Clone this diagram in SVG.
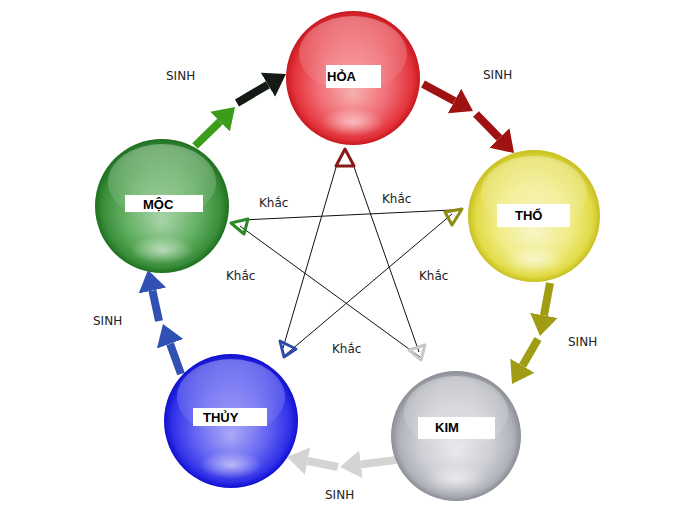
<svg xmlns="http://www.w3.org/2000/svg" width="700" height="522" viewBox="0 0 700 522">
<style>
.lbl{font-family:"Liberation Sans",Arial,sans-serif;font-weight:bold;font-size:13px;fill:#000}
.box{fill:#fff}
.t{font-family:"DejaVu Sans",Verdana,sans-serif;font-size:12px;fill:#222}
.k{stroke:#111;stroke-width:1;fill:none}
.hl{fill:url(#gHi)}
.gl{fill:url(#gGlow)}
</style>
<defs>
<radialGradient id="gRed" cx="0.5" cy="0.5" r="0.5" fx="0.5" fy="0.62">
<stop offset="0" stop-color="#f8b0b0"/><stop offset="0.55" stop-color="#f06a72"/><stop offset="0.88" stop-color="#e4343c"/><stop offset="1" stop-color="#c81820"/>
</radialGradient>
<radialGradient id="gYel" cx="0.5" cy="0.5" r="0.5" fx="0.5" fy="0.62">
<stop offset="0" stop-color="#f8f6c8"/><stop offset="0.55" stop-color="#f0ec88"/><stop offset="0.88" stop-color="#e2dc48"/><stop offset="1" stop-color="#c8c020"/>
</radialGradient>
<radialGradient id="gGry" cx="0.5" cy="0.5" r="0.5" fx="0.5" fy="0.62">
<stop offset="0" stop-color="#e8e9ee"/><stop offset="0.55" stop-color="#cfd0d6"/><stop offset="0.88" stop-color="#b0b2ba"/><stop offset="1" stop-color="#8c8e96"/>
</radialGradient>
<radialGradient id="gBlu" cx="0.5" cy="0.5" r="0.5" fx="0.5" fy="0.62">
<stop offset="0" stop-color="#a8a8f8"/><stop offset="0.55" stop-color="#6464f2"/><stop offset="0.88" stop-color="#3030e8"/><stop offset="1" stop-color="#1010d0"/>
</radialGradient>
<radialGradient id="gGrn" cx="0.5" cy="0.5" r="0.5" fx="0.5" fy="0.62">
<stop offset="0" stop-color="#a8d4a8"/><stop offset="0.55" stop-color="#64b064"/><stop offset="0.88" stop-color="#3a8e3a"/><stop offset="1" stop-color="#1e7020"/>
</radialGradient>
<linearGradient id="gHi" x1="0" y1="0" x2="0" y2="1">
<stop offset="0" stop-color="#fff" stop-opacity="0.35"/><stop offset="1" stop-color="#fff" stop-opacity="0.02"/>
</linearGradient>
<radialGradient id="gGlow" cx="0.5" cy="0.5" r="0.5">
<stop offset="0" stop-color="#fff" stop-opacity="0.55"/><stop offset="1" stop-color="#fff" stop-opacity="0"/>
</radialGradient>
<marker id="mGrn" markerUnits="userSpaceOnUse" markerWidth="24" markerHeight="30" viewBox="0 -15 24 30" refX="0" refY="0" orient="auto"><path d="M0,-14 L21,0 L0,14 z" fill="#3c9c1c"/></marker>
<marker id="mBlk" markerUnits="userSpaceOnUse" markerWidth="24" markerHeight="30" viewBox="0 -15 24 30" refX="0" refY="0" orient="auto"><path d="M0,-14 L21,0 L0,14 z" fill="#141a14"/></marker>
<marker id="mRed" markerUnits="userSpaceOnUse" markerWidth="24" markerHeight="30" viewBox="0 -15 24 30" refX="0" refY="0" orient="auto"><path d="M0,-14 L21,0 L0,14 z" fill="#a01212"/></marker>
<marker id="mOlv" markerUnits="userSpaceOnUse" markerWidth="24" markerHeight="30" viewBox="0 -15 24 30" refX="0" refY="0" orient="auto"><path d="M0,-14 L21,0 L0,14 z" fill="#a09c14"/></marker>
<marker id="mGry" markerUnits="userSpaceOnUse" markerWidth="24" markerHeight="30" viewBox="0 -15 24 30" refX="0" refY="0" orient="auto"><path d="M0,-14 L21,0 L0,14 z" fill="#d4d4d4"/></marker>
<marker id="mBlu" markerUnits="userSpaceOnUse" markerWidth="24" markerHeight="30" viewBox="0 -15 24 30" refX="0" refY="0" orient="auto"><path d="M0,-14 L21,0 L0,14 z" fill="#3050b4"/></marker>
</defs>
<rect width="700" height="522" fill="#fff"/>

<g id="connectors">
<line x1="195" y1="146" x2="220" y2="121.7" stroke="#3c9c1c" stroke-width="8" marker-end="url(#mGrn)"/>
<line x1="237" y1="103" x2="267.9" y2="84.7" stroke="#141a14" stroke-width="8" marker-end="url(#mBlk)"/>
<line x1="423" y1="84" x2="454.5" y2="101" stroke="#a01212" stroke-width="8" marker-end="url(#mRed)"/>
<line x1="476" y1="114" x2="499.4" y2="138" stroke="#a01212" stroke-width="8" marker-end="url(#mRed)"/>
<line x1="550" y1="283" x2="543.9" y2="315.4" stroke="#a09c14" stroke-width="8" marker-end="url(#mOlv)"/>
<line x1="538" y1="339" x2="522.5" y2="365.8" stroke="#a09c14" stroke-width="8" marker-end="url(#mOlv)"/>
<line x1="396" y1="460" x2="360.9" y2="464.4" stroke="#d4d4d4" stroke-width="8" marker-end="url(#mGry)"/>
<line x1="338" y1="467" x2="307.6" y2="461" stroke="#d4d4d4" stroke-width="8" marker-end="url(#mGry)"/>
<line x1="181" y1="374" x2="170.1" y2="343.8" stroke="#3050b4" stroke-width="8" marker-end="url(#mBlu)"/>
<line x1="159" y1="321" x2="152.4" y2="290.5" stroke="#3050b4" stroke-width="8" marker-end="url(#mBlu)"/>
<line class="k" x1="242" y1="220" x2="452" y2="210"/>
<line class="k" x1="240" y1="226" x2="420" y2="357"/>
<line class="k" x1="452" y1="214" x2="284" y2="356"/>
<line class="k" x1="337" y1="164" x2="283" y2="348"/>
<line class="k" x1="353" y1="164" x2="419" y2="352"/>
<path d="M231,223 L248,219 L244,234 Z" fill="none" stroke="#2a8a2a" stroke-width="3" stroke-linejoin="round"/>
<path d="M462,209 L445,212 L452,225 Z" fill="none" stroke="#8c8a10" stroke-width="3" stroke-linejoin="round"/>
<path d="M284,357 L280,341 L296,349 Z" fill="none" stroke="#2c4aa8" stroke-width="3" stroke-linejoin="round"/>
<path d="M421,360 L409,350 L425,345 Z" fill="none" stroke="#c8c8c8" stroke-width="3" stroke-linejoin="round"/>
<path d="M345,149 L336,166 L354,166 Z" fill="none" stroke="#8a1818" stroke-width="3" stroke-linejoin="round"/>
</g>

<g id="hoa">
<circle cx="353" cy="78" r="67" fill="url(#gRed)"/>
<ellipse class="hl" cx="353" cy="54" rx="54" ry="38"/>
<ellipse class="gl" cx="353" cy="122" rx="32" ry="14"/>
<rect class="box" x="326" y="65" width="55" height="23"/>
<text class="lbl" x="327" y="81">HỎA</text>
</g>

<g id="tho">
<circle cx="534" cy="216" r="66" fill="url(#gYel)"/>
<ellipse class="hl" cx="534" cy="193" rx="53" ry="37"/>
<ellipse class="gl" cx="534" cy="260" rx="32" ry="14"/>
<rect class="box" x="497" y="204" width="73" height="23"/>
<text class="lbl" x="515" y="220">THỔ</text>
</g>

<g id="kim">
<circle cx="456" cy="436" r="65" fill="url(#gGry)"/>
<ellipse class="hl" cx="456" cy="413" rx="52" ry="37"/>
<ellipse class="gl" cx="456" cy="479" rx="32" ry="14"/>
<rect class="box" x="418" y="417" width="77" height="22"/>
<text class="lbl" x="435" y="432">KIM</text>
</g>

<g id="thuy">
<circle cx="231" cy="421" r="67" fill="url(#gBlu)"/>
<ellipse class="hl" cx="231" cy="397" rx="54" ry="38"/>
<ellipse class="gl" cx="231" cy="465" rx="32" ry="14"/>
<rect class="box" x="193" y="408" width="74" height="18"/>
<text class="lbl" x="203" y="422">THỦY</text>
</g>

<g id="moc">
<circle cx="162" cy="206" r="67" fill="url(#gGrn)"/>
<ellipse class="hl" cx="162" cy="182" rx="54" ry="38"/>
<ellipse class="gl" cx="162" cy="250" rx="32" ry="14"/>
<rect class="box" x="125" y="195" width="78" height="17"/>
<text class="lbl" x="143" y="209">MỘC</text>
</g>

<g id="labels">
<text class="t" x="166" y="80">SINH</text>
<text class="t" x="483" y="79">SINH</text>
<text class="t" x="568" y="346">SINH</text>
<text class="t" x="325" y="499">SINH</text>
<text class="t" x="93" y="325">SINH</text>
<text class="t" x="259" y="207">Khắc</text>
<text class="t" x="382" y="203">Khắc</text>
<text class="t" x="226" y="280">Khắc</text>
<text class="t" x="419" y="280">Khắc</text>
<text class="t" x="332" y="353">Khắc</text>
</g>
</svg>
